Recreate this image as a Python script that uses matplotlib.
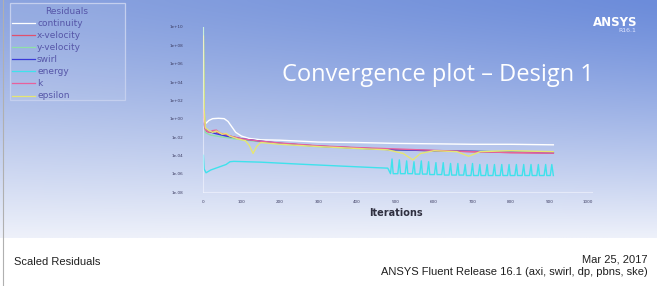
import numpy as np
import matplotlib
matplotlib.use("Agg")
import matplotlib.pyplot as plt
from matplotlib.colors import to_rgb
from matplotlib.patches import Rectangle

# residual histories (scaled residuals)
continuity_it = [1, 8, 15, 25, 40, 55, 65, 75, 85, 100, 120, 150, 200, 300, 400, 500, 600, 700, 800, 910]
continuity = [1e0, 3.2e-1, 6.3e-1, 1e0, 1.1e0, 1e0, 5e-1, 1.26e-1, 3.2e-2, 1.26e-2, 7e-3, 5e-3, 4.5e-3,
              2.8e-3, 2.5e-3, 2e-3, 1.8e-3, 1.6e-3, 1.6e-3, 1.4e-3]

xvel_it = [1, 3, 6, 10, 20, 30, 40, 60, 80, 100, 150, 200, 300, 400, 500, 600, 700, 800, 910]
xvel = [1e2, 3.2e0, 1e-1, 4e-2, 3.2e-2, 5e-2, 2.5e-2, 1.6e-2, 1e-2, 6.3e-3, 3.2e-3, 2e-3, 1e-3,
        6.3e-4, 4e-4, 3.2e-4, 2.5e-4, 2e-4, 1.8e-4]

yvel_it = [1, 3, 6, 10, 20, 50, 100, 200, 300, 400, 500, 600, 700, 800, 910]
yvel = [1e10, 1e1, 3.2e-2, 2.5e-2, 1.6e-2, 1e-2, 5e-3, 1.8e-3, 9e-4, 5.6e-4, 4e-4, 3.2e-4, 2.8e-4, 2.5e-4, 2.2e-4]

swirl_it = [1, 5, 10, 30, 60, 100, 200, 300, 400, 500, 600, 700, 800, 910]
swirl = [3.2e-1, 1e-1, 5e-2, 2.5e-2, 1.26e-2, 6.3e-3, 2e-3, 1e-3, 6.3e-4, 4e-4, 3.2e-4, 2.8e-4, 2.2e-4, 2e-4]

energy_it = [1, 3, 8, 20, 40, 60, 70, 80, 150, 250, 350, 450, 480, 487,
             491, 494, 506, 510, 513, 525, 529, 532, 544, 548, 551, 563, 567, 570, 582,
             586, 589, 601, 605, 608, 620, 624, 627, 639, 643, 646, 658, 662, 665, 677,
             681, 684, 696, 700, 703, 715, 719, 722, 734, 738, 741, 753, 757, 760, 772,
             776, 779, 791, 795, 798, 810, 814, 817, 829, 833, 836, 848, 852, 855, 867,
             871, 874, 886, 890, 893, 902, 906, 910]
energy = [1e-4, 3.2e-6, 1.26e-6, 2.5e-6, 5e-6, 1e-5, 2e-5, 2.2e-5, 1.8e-5, 1.1e-5, 7e-6, 4.5e-6, 4e-6, 1e-6,
          4e-5, 1e-6, 1e-6, 3.2e-5, 1e-6, 1e-6, 2.5e-5, 1e-6, 1e-6, 2e-5, 9e-7, 9e-7, 2.5e-5, 9e-7, 9e-7,
          2e-5, 8e-7, 8e-7, 1.6e-5, 8e-7, 8e-7, 1.6e-5, 7e-7, 7e-7, 1.3e-5, 7e-7, 7e-7, 1.3e-5, 7e-7, 7e-7,
          1e-5, 6.3e-7, 6.3e-7, 1.3e-5, 6.3e-7, 6.3e-7, 1e-5, 6.3e-7, 6.3e-7, 1e-5, 6.3e-7, 6.3e-7, 1e-5,
          6.3e-7, 6.3e-7, 1e-5, 6.3e-7, 6.3e-7, 1e-5, 6.3e-7, 6.3e-7, 1e-5, 6.3e-7, 6.3e-7, 1e-5, 6.3e-7,
          6.3e-7, 1e-5, 6.3e-7, 6.3e-7, 1e-5, 6.3e-7, 6.3e-7, 1e-5, 6.3e-7, 6.3e-7, 1e-5, 6.3e-7]

k_it = [1, 3, 6, 15, 25, 35, 45, 60, 70, 100, 150, 200, 300, 400, 500, 600, 700, 800, 910]
k = [1e1, 3.2e-1, 6.3e-2, 3.2e-2, 5e-2, 5.6e-2, 2.5e-2, 2e-2, 1.26e-2, 6.3e-3, 3.5e-3, 2.2e-3, 1.1e-3,
     7e-4, 5e-4, 3.5e-4, 2.5e-4, 2e-4, 1.8e-4]

eps_it = [1, 3, 6, 15, 25, 35, 50, 60, 70, 90, 110, 120, 130, 140, 150, 200, 300, 400, 480, 520, 545,
          565, 600, 660, 690, 720, 800, 910]
eps = [1e9, 1e1, 1e-1, 5e-2, 3.2e-2, 4.5e-2, 2e-2, 2.5e-2, 1.26e-2, 6.3e-3, 4e-3, 1.26e-3, 1.6e-4,
       1e-3, 2.5e-3, 1.6e-3, 9e-4, 5.6e-4, 4e-4, 1.6e-4, 3.2e-5, 1.6e-4, 3.2e-4, 2.5e-4, 8e-5, 2.5e-4,
       3.2e-4, 2.5e-4]

series = [
    ("continuity", continuity_it, continuity, "#ffffff"),
    ("x-velocity", xvel_it, xvel, "#e0506e"),
    ("y-velocity", yvel_it, yvel, "#8fe0a8"),
    ("swirl", swirl_it, swirl, "#3a3ad8"),
    ("energy", energy_it, energy, "#3fe2ec"),
    ("k", k_it, k, "#e8609c"),
    ("epsilon", eps_it, eps, "#e6e672"),
]

ytick_vals = [1e-8, 1e-6, 1e-4, 1e-2, 1e0, 1e2, 1e4, 1e6, 1e8, 1e10]
ytick_labels = ["1e-08", "1e-06", "1e-04", "1e-02", "1e+00", "1e+02", "1e+04", "1e+06", "1e+08", "1e+10"]
xtick_vals = [0, 100, 200, 300, 400, 500, 600, 700, 800, 900, 1000]

W, H = 657, 286
fig = plt.figure(figsize=(W / 100, H / 100), dpi=100)
fig.patch.set_facecolor("white")

def fx(px):
    return px / W

def fy(py):
    return 1 - py / H

# blue gradient backdrop of the Fluent graphics window
bg_top = 238
bg = fig.add_axes([0, fy(bg_top), 1, bg_top / H])
ny, nx = 120, 200
t = np.linspace(0, 1, ny)[:, None]
s = np.linspace(0, 1, nx)[None, :]
top_l = np.array(to_rgb("#8ca4df"))
top_r = np.array(to_rgb("#6c8cda"))
bot = np.array(to_rgb("#eef1fa"))
top = top_l[None, None, :] * (1 - s[..., None]) + top_r[None, None, :] * s[..., None]
w = (t ** 1.25)[..., None]
img = top * (1 - w) + bot[None, None, :] * w
bg.imshow(img, aspect="auto", extent=[0, 1, 0, 1], interpolation="bilinear")
bg.set_axis_off()

ax = fig.add_axes([fx(203), fy(192), 385 / W, 165 / H])
ax.patch.set_alpha(0)
for name, it, vals, col in series:
    ax.plot(it, vals, color=col, lw=1.0, label=name)
ax.set_yscale("log")
ax.set_xlim(0, 1000)
ax.set_ylim(1e-8, 1e10)
ax.set_yticks(ytick_vals)
ax.set_yticklabels(ytick_labels)
ax.minorticks_off()
ax.set_xticks(xtick_vals)
ax.tick_params(labelsize=3, colors="#3a3a60", length=0, pad=14)
ax.tick_params(axis="x", pad=6)
for side in ["top", "right"]:
    ax.spines[side].set_visible(False)
for side in ["left", "bottom"]:
    ax.spines[side].set_color("#f4f6ff")
    ax.spines[side].set_alpha(0.6)
    ax.spines[side].set_linewidth(0.8)
ax.spines["bottom"].set_bounds(0, 1010)
ax.set_xlabel("Iterations", fontsize=7, fontweight="bold", color="#303040", labelpad=3)

# legend box drawn the way Fluent lays it out
fig.add_artist(Rectangle((fx(10), fy(100)), 115 / W, 97 / H, transform=fig.transFigure,
                         facecolor="#ffffff", alpha=0.08, edgecolor="none"))
fig.add_artist(Rectangle((fx(10), fy(100)), 115 / W, 97 / H, transform=fig.transFigure,
                         facecolor="none", edgecolor="#c4cfee", lw=0.9))
leg_text = "#5656a8"
fig.text(fx(67), fy(12), "Residuals", fontsize=6.5, color=leg_text, ha="center", va="center")
row_y = [23, 35, 47, 59, 71, 83, 96]
for (name, it, vals, col), ry in zip(series, row_y):
    fig.add_artist(plt.Line2D([fx(12), fx(35)], [fy(ry), fy(ry)], color=col, lw=0.9))
    fig.text(fx(37), fy(ry), name, fontsize=6.5, color=leg_text, ha="left", va="center")

fig.text(fx(438), fy(75), "Convergence plot \u2013 Design 1", color="white",
         fontsize=17, family="Open Sans", ha="center", va="center")
fig.text(fx(637), fy(22), "ANSYS", color="white", fontsize=8.5, fontweight="bold",
         ha="right", va="center")
fig.text(fx(636), fy(31), "R16.1", color="#e0e6ff", fontsize=4.5, ha="right", va="center")

fig.text(fx(14), fy(262), "Scaled Residuals", fontsize=8, family="Liberation Sans",
         color="#202020", ha="left", va="center")
fig.text(fx(648), fy(259), "Mar 25, 2017", fontsize=8, family="Liberation Sans",
         color="#202020", ha="right", va="center")
fig.text(fx(648), fy(272), "ANSYS Fluent Release 16.1 (axi, swirl, dp, pbns, ske)", fontsize=8,
         family="Liberation Sans", color="#202020", ha="right", va="center")

fig.add_artist(plt.Line2D([fx(3), fx(3)], [0, 1], color="#b0b0b0", lw=0.8))

fig.savefig("out.png", dpi=100)
